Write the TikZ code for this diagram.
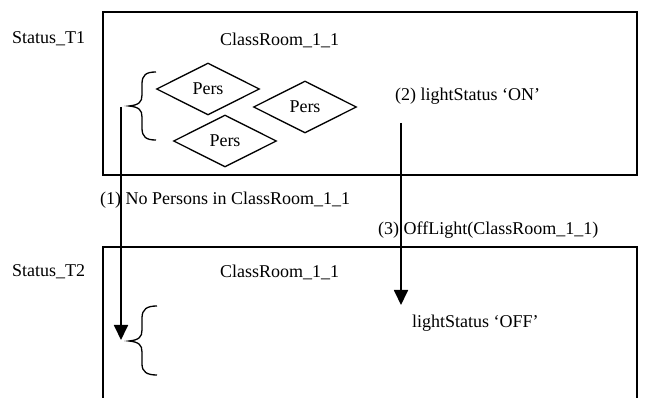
\documentclass[tikz,border=0pt]{standalone}
\usepackage{fontspec}
\setmainfont{Liberation Serif}
\usetikzlibrary{shapes.geometric,arrows.meta}
\begin{document}
\begin{tikzpicture}[x=1pt,y=-1pt,
  lbl/.style={anchor=west,inner sep=0pt,font=\fontsize{18}{20}\selectfont},
  frame/.style={line width=1.8pt},
  pers/.style={draw,shape=diamond,aspect=2,line width=1.3pt,inner sep=0pt,
    minimum width=103pt,minimum height=52pt,font=\fontsize{18}{20}\selectfont},
  arr/.style={line width=1.8pt,-{Triangle[width=14pt,length=15pt]}},
  bracestyle/.style={line width=1.3pt}]
\useasboundingbox (0,0) rectangle (649,398);
% state T1
\node[lbl] (st1) at (12,39) {Status\_T1};
\draw[frame] (103,12) rectangle (637,175);
\node[lbl] (cr1) at (220,40) {ClassRoom\_1\_1};
\node[pers] (p1) at (208,89) {Pers};
\node[pers] (p2) at (305,107) {Pers};
\node[pers] (p3) at (225,141) {Pers};
\draw[bracestyle] (156,72) .. controls (146,72) and (142,75) .. (142,84) -- (142,95)
  .. controls (142,102) and (139,105) .. (129,106)
  .. controls (139,107) and (142,110) .. (142,117) -- (142,128)
  .. controls (142,137) and (146,140) .. (156,140);
\node[lbl] (on) at (395,96) {(2) lightStatus ‘ON’};

% state T2
\node[lbl] (st2) at (12,272) {Status\_T2};
\draw[frame] (103,400) -- (103,247) -- (637,247) -- (637,400);
\node[lbl] (cr2) at (220,272) {ClassRoom\_1\_1};
\draw[bracestyle] (157,306) .. controls (147,306) and (142,309) .. (142,318) -- (142,330)
  .. controls (142,337) and (139,340) .. (129,341)
  .. controls (139,342) and (142,345) .. (142,352) -- (142,364)
  .. controls (142,372) and (147,375) .. (157,375);
\node[lbl] (off) at (412,323) {lightStatus ‘OFF’};

% transitions
\node[lbl] (t1) at (100,200) {(1) No Persons in ClassRoom\_1\_1};
\node[lbl] (t3) at (378,230) {(3) OffLight(ClassRoom\_1\_1)};
\coordinate (a1s) at (121,107);
\coordinate (a1e) at (121,340);
\coordinate (a2s) at (401,123);
\coordinate (a2e) at (401,305);
\draw[arr] (a1s) -- (a1e);
\draw[arr] (a2s) -- (a2e);
\end{tikzpicture}
\end{document}
